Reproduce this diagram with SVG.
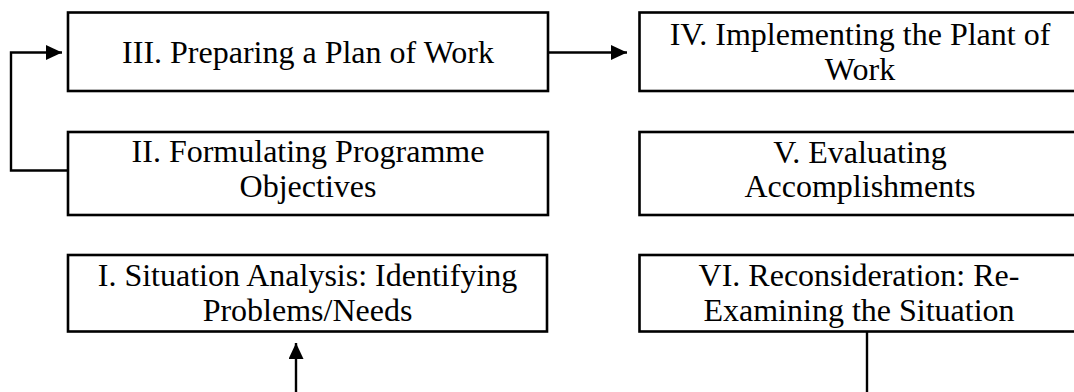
<svg xmlns="http://www.w3.org/2000/svg" width="1074" height="392" viewBox="0 0 1074 392">
  <style>
    .box { fill: #ffffff; stroke: #000000; stroke-width: 2.6; }
    .lbl { font-family: "Liberation Serif", "Times New Roman", serif; font-size: 32px; fill: #000000; text-anchor: middle; }
    .conn { fill: none; stroke: #000000; stroke-width: 2.4; }
  </style>
  <defs>
    <marker id="arrow" markerUnits="userSpaceOnUse" markerWidth="16" markerHeight="15" refX="16" refY="7.5" orient="auto">
      <path d="M0,0 L16,7.5 L0,15 Z" fill="#000000"/>
    </marker>
  </defs>
  <rect x="0" y="0" width="1074" height="392" fill="#ffffff"/>

  <g id="node-III">
    <rect class="box" x="68" y="12.5" width="480" height="78.5"/>
    <text class="lbl" x="308" y="63">III. Preparing a Plan of Work</text>
  </g>
  <g id="node-II">
    <rect class="box" x="68" y="132" width="480" height="83"/>
    <text class="lbl" x="308" y="162">II. Formulating Programme</text>
    <text class="lbl" x="308" y="197">Objectives</text>
  </g>
  <g id="node-I">
    <rect class="box" x="68" y="255" width="479" height="76.5"/>
    <text class="lbl" x="307.5" y="286">I. Situation Analysis: Identifying</text>
    <text class="lbl" x="307.5" y="321">Problems/Needs</text>
  </g>
  <g id="node-IV">
    <rect class="box" x="639.5" y="12.5" width="440" height="78.5"/>
    <text class="lbl" x="860" y="45">IV. Implementing the Plant of</text>
    <text class="lbl" x="860" y="80">Work</text>
  </g>
  <g id="node-V">
    <rect class="box" x="639.5" y="132" width="440" height="83"/>
    <text class="lbl" x="860" y="163">V. Evaluating</text>
    <text class="lbl" x="860" y="197">Accomplishments</text>
  </g>
  <g id="node-VI">
    <rect class="box" x="639.5" y="255" width="440" height="76.5"/>
    <text class="lbl" x="859" y="286">VI. Reconsideration: Re-</text>
    <text class="lbl" x="859" y="321">Examining the Situation</text>
  </g>

  <g id="connectors">
    <path class="conn" d="M68,170.5 L11,170.5 L11,52.5 L62,52.5" marker-end="url(#arrow)"/>
    <path class="conn" d="M548,52.5 L627,52.5" stroke-width="2" marker-end="url(#arrow)"/>
    <path class="conn" d="M296,392 L296,343" stroke-width="1.6" marker-end="url(#arrow)"/>
    <path class="conn" d="M867,331.5 L867,392" stroke-width="2.8"/>
  </g>
</svg>
